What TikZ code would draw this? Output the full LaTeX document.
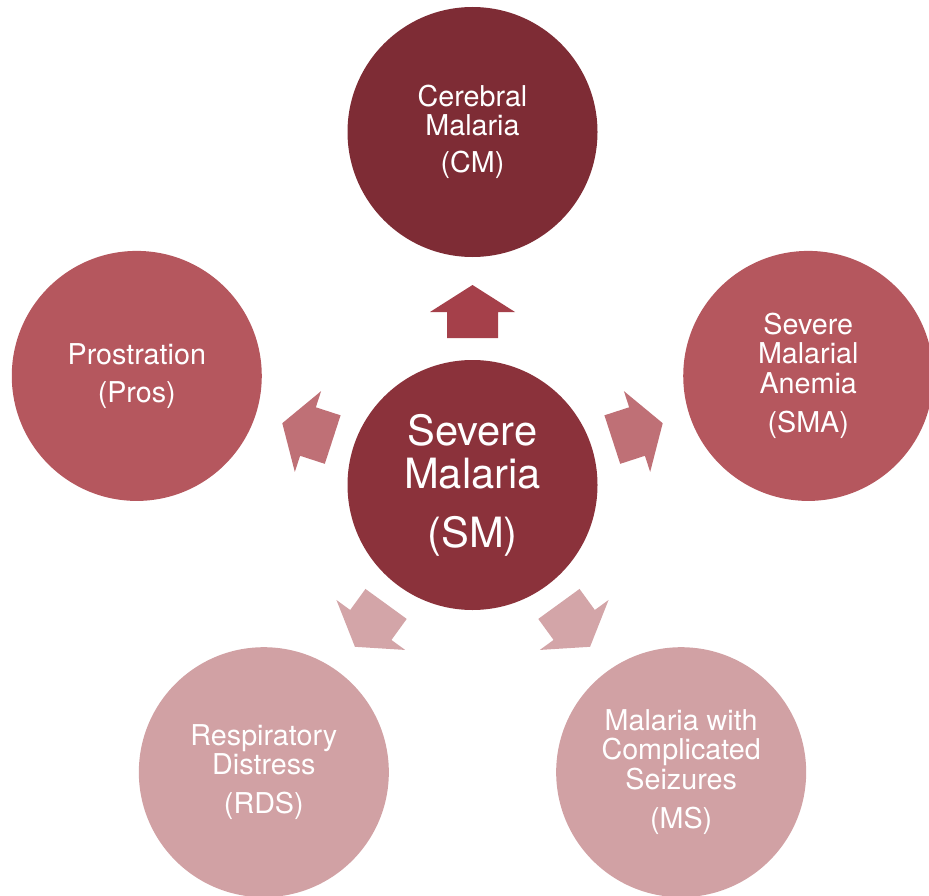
\documentclass[tikz,border=0pt]{standalone}
\usepackage{fontspec}
\setmainfont{TeX Gyre Heros}
\definecolor{smcol}{HTML}{8B323B}
\definecolor{cmcol}{HTML}{7E2C35}
\definecolor{midcol}{HTML}{B5575E}
\definecolor{lowcol}{HTML}{D1A1A4}
\definecolor{arrtop}{HTML}{A5404A}
\definecolor{arrmid}{HTML}{BF7076}
\definecolor{arrlow}{HTML}{D3A5A8}
\begin{document}
\begin{tikzpicture}[x=1pt,y=1pt,
  bubble/.style={circle, minimum size=250pt, inner sep=0pt, text=white, align=center,
    font=\fontsize{28.7}{29.5}\selectfont},
  bigbubble/.style={bubble, font=\fontsize{41.7}{43.3}\selectfont},
  blockarrow/.pic={\path[pic actions] (147,-25.5) -- (173,-25.5) -- (173,-42.5) -- (200,0)
      -- (173,42.5) -- (173,25.5) -- (147,25.5) -- cycle;}]
\useasboundingbox (0,0) rectangle (929,-896);
\clip (0,0) rectangle (929,-896);
\coordinate (c) at (472.5,-485);
% block arrows
\pic[rotate=90, fill=arrtop] at (c) {blockarrow};
\pic[rotate=18, fill=arrmid] at (c) {blockarrow};
\pic[rotate=162, fill=arrmid] at (c) {blockarrow};
\pic[rotate=234, fill=arrlow] at (c) {blockarrow};
\pic[rotate=306, fill=arrlow] at (c) {blockarrow};
% circles
\node[bigbubble, fill=smcol] (sm) at (c) {Severe\\Malaria\\[15.5pt](SM)};
\node[bubble, fill=cmcol] (cm) at ([shift={(90:353)}]c) {Cerebral\\Malaria\\[7.5pt](CM)};
\node[bubble, fill=midcol] (sma) at ([shift={(18:353)}]c) {Severe\\Malarial\\Anemia\\[10pt](SMA)};
\node[bubble, fill=midcol] (pros) at ([shift={(162:353)}]c) {Prostration\\[8.5pt](Pros)};
\node[bubble, fill=lowcol] (rds) at ([shift={(234:355)}]c) {Respiratory\\Distress\\[9.5pt](RDS)};
\node[bubble, fill=lowcol] (ms) at ([shift={(306:355)}]c) {Malaria with\\Complicated\\Seizures\\[10pt](MS)};
\end{tikzpicture}
\end{document}
